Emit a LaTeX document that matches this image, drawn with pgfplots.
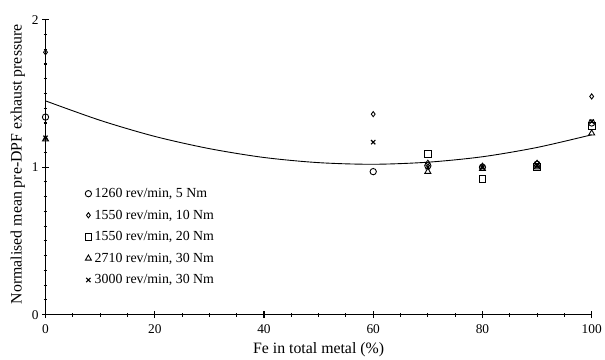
\documentclass[border=0pt]{standalone}
\usepackage{fontspec}
\setmainfont{Liberation Serif}
\usepackage{pgfplots}
\pgfplotsset{compat=1.18}

\begin{document}
\begin{tikzpicture}
\begin{axis}[
  name=main,
  scale only axis, width=552pt, height=298pt,
  xmin=0, xmax=100, ymin=0, ymax=2,
  axis lines=left, axis line style={-, line width=1.4pt},
  xtick={0,20,...,100}, ytick={0,1,2},
  minor x tick num=3, minor y tick num=9,
  tick align=center, major tick length=7pt, minor tick length=4pt,
  tick style={black, line width=1.1pt},
  /pgf/number format/assume math mode=true,
  ticklabel style={font=\fontsize{13.5}{15}\selectfont},
  xticklabel style={yshift=-3pt},
  xlabel={Fe in total metal (\%)},
  ylabel={Normalised mean pre-DPF exhaust pressure},
  label style={font=\fontsize{16}{19}\selectfont},
  x label style={at={(axis description cs:0.5,-0.1174)}, anchor=center},
  y label style={at={(axis description cs:-0.0507,0.51)}, anchor=center},
  clip=false,
  legend cell align=left,
  legend style={at={(axis cs:7.2,0.885)}, anchor=north west, draw=none, fill=none,
    font=\fontsize{14}{16}\selectfont, row sep=7pt, column sep=1pt, inner xsep=0pt},
  legend image code/.code={\draw[#1] plot coordinates {(0pt,0pt)};},
  every axis plot/.append style={black, line width=0.9pt},
]
% measured points, one series per engine condition
\addplot[only marks, mark=o, mark size=3.2pt] coordinates {
  (0,1.34) (60,0.97) (70,1.01) (80,1.00) (90,1.02) (100,1.30)};
\addlegendentry{1260 rev/min, 5 Nm}
\addplot[only marks, mark=diamond, mark size=2.6pt] coordinates {
  (0,1.78) (60,1.36) (70,1.03) (80,1.01) (90,1.03) (100,1.48)};
\addlegendentry{1550 rev/min, 10 Nm}
\addplot[only marks, mark=square, mark size=3.4pt] coordinates {
  (70,1.09) (80,0.92) (90,1.00) (100,1.28)};
\addlegendentry{1550 rev/min, 20 Nm}
\addplot[only marks, mark=triangle, mark size=3.5pt] coordinates {
  (0,1.19) (70,0.97) (80,0.99) (90,1.00) (100,1.23)};
\addlegendentry{2710 rev/min, 30 Nm}
\addplot[only marks, mark=x, mark size=3pt, line width=1.2pt] coordinates {
  (0,1.20) (60,1.17) (70,1.00) (80,1.00) (90,1.01) (100,1.31)};
\addlegendentry{3000 rev/min, 30 Nm}
% quadratic trend line through all conditions
\addplot[smooth, mark=none, line width=0.9pt, forget plot] coordinates {
  (0,1.450) (10,1.318) (20,1.209) (30,1.126) (40,1.066) (50,1.031)
  (60,1.020) (70,1.034) (80,1.071) (90,1.134) (100,1.220)};
\end{axis}
\path ([shift={(-46pt,-45pt)}]main.south west) rectangle ([shift={(7pt,20pt)}]main.north east);
\end{tikzpicture}
\end{document}
